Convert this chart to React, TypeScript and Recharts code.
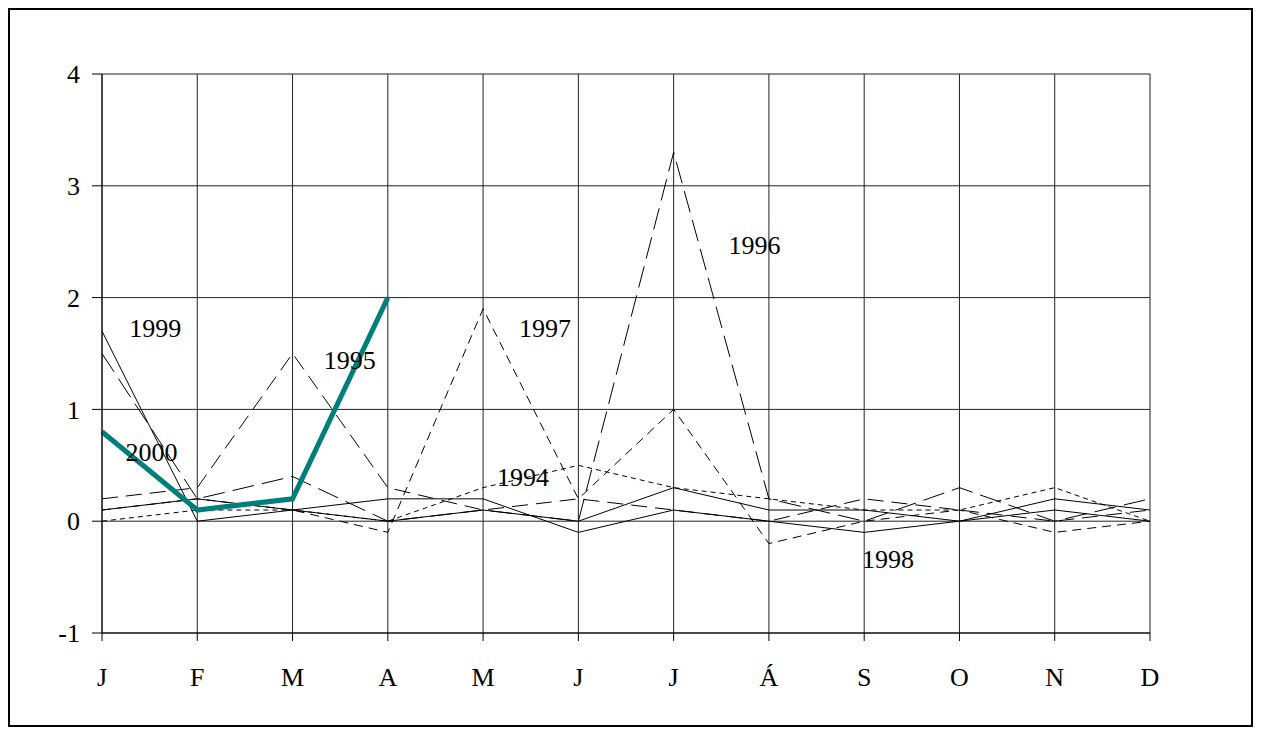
import { LineChart, Line, XAxis, YAxis, CartesianGrid, ReferenceDot } from 'recharts'

const months = ['J', 'F', 'M', 'A', 'M', 'J', 'J', 'Á', 'S', 'O', 'N', 'D']

const y1994 = [0.0, 0.1, 0.1, 0.0, 0.3, 0.5, 0.3, 0.2, 0.1, 0.1, 0.3, 0.0]
const y1995 = [0.2, 0.3, 1.5, 0.3, 0.1, 0.2, 0.1, 0.0, 0.2, 0.1, 0.0, 0.1]
const y1996 = [1.5, 0.2, 0.4, 0.0, 0.1, 0.0, 3.3, 0.2, 0.0, 0.3, 0.0, 0.2]
const y1997 = [0.1, 0.2, 0.1, -0.1, 1.9, 0.2, 1.0, -0.2, 0.0, 0.1, -0.1, 0.0]
const y1998 = [0.1, 0.2, 0.1, 0.2, 0.2, -0.1, 0.1, 0.0, -0.1, 0.0, 0.1, 0.0]
const y1999 = [1.7, 0.0, 0.1, 0.0, 0.1, 0.0, 0.3, 0.1, 0.1, 0.0, 0.2, 0.1]
const y2000 = [0.8, 0.1, 0.2, 2.0]

const yTicks = [-1, 0, 1, 2, 3, 4]

// label anchors: [text, month index (fractional), value]
const labels: [string, number, number][] = [
  ['1999', 0.56, 1.73],
  ['2000', 0.52, 0.62],
  ['1995', 2.6, 1.44],
  ['1997', 4.65, 1.73],
  ['1994', 4.42, 0.4],
  ['1996', 6.85, 2.47],
  ['1998', 8.25, -0.34],
]

const data = months.map((m, i) => ({
  i,
  m,
  y1994: y1994[i],
  y1995: y1995[i],
  y1996: y1996[i],
  y1997: y1997[i],
  y1998: y1998[i],
  y1999: y1999[i],
  y2000: i < y2000.length ? y2000[i] : null,
}))

const font = '"Liberation Serif", "Times New Roman", serif'

const series = [
  { key: 'y1994', dash: '5 4' },
  { key: 'y1995', dash: '16 8' },
  { key: 'y1996', dash: '22 8' },
  { key: 'y1997', dash: '9 6' },
  { key: 'y1998', dash: undefined },
  { key: 'y1999', dash: undefined },
]

export default function App() {
  return (
    <div style={{ width: 1241, height: 715, border: '2px solid #000', fontFamily: font }}>
      <LineChart
        width={1241}
        height={715}
        data={data}
        margin={{ top: 64, right: 101, left: 32, bottom: 32 }}
      >
        <CartesianGrid stroke="#222" strokeWidth={1} />
        <XAxis
          dataKey="i"
          type="number"
          domain={[0, 11]}
          ticks={months.map((_, i) => i)}
          tickFormatter={(v: number) => months[v]}
          height={60}
          tickSize={8}
          tickMargin={27}
          stroke="#000"
          tick={{ fill: '#000', fontSize: 26, fontFamily: font }}
          axisLine={{ stroke: '#000' }}
          tickLine={{ stroke: '#000' }}
        />
        <YAxis
          type="number"
          domain={[-1, 4]}
          ticks={yTicks}
          width={60}
          tickSize={10}
          tickMargin={12}
          stroke="#000"
          tick={{ fill: '#000', fontSize: 26, fontFamily: font }}
        />
        {series.map((s) => (
          <Line
            key={s.key}
            dataKey={s.key}
            stroke="#000"
            strokeWidth={1}
            strokeDasharray={s.dash}
            dot={false}
            type="linear"
            isAnimationActive={false}
          />
        ))}
        <Line
          dataKey="y2000"
          stroke="#007f7a"
          strokeWidth={5}
          dot={false}
          type="linear"
          connectNulls={false}
          isAnimationActive={false}
        />
        {labels.map(([t, x, y]) => (
          <ReferenceDot
            key={t}
            x={x}
            y={y}
            r={0}
            fill="none"
            stroke="none"
            label={{ value: t, position: 'center', fill: '#000', fontSize: 26, fontFamily: font }}
          />
        ))}
      </LineChart>
    </div>
  )
}
